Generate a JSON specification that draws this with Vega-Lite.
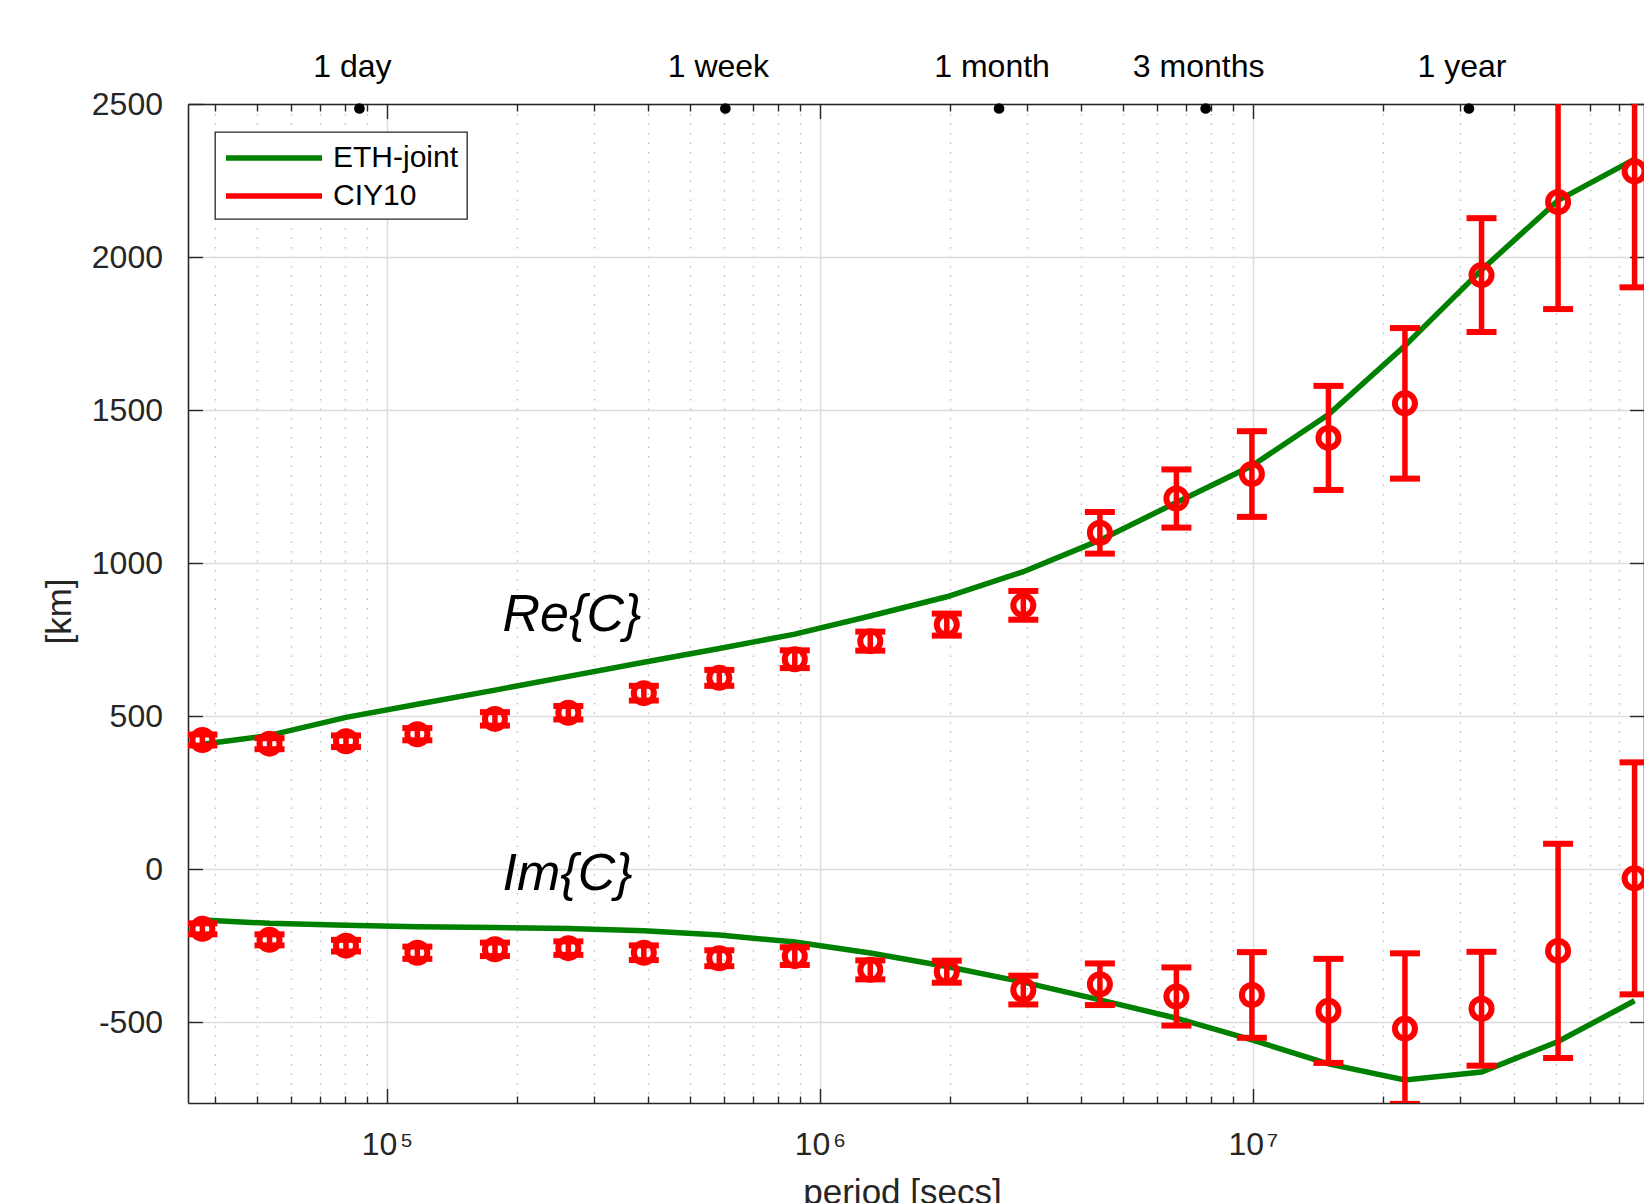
{
  "$schema": "https://vega.github.io/schema/vega-lite/v6.json",
  "autosize": {"type": "none"},
  "width": 1456,
  "height": 999,
  "padding": {"left": 188, "top": 104, "right": 0, "bottom": 100},
  "background": "white",
  "config": {
    "font": "Liberation Sans",
    "view": {"stroke": null},
    "axis": {
      "labelFont": "Liberation Sans",
      "titleFont": "Liberation Sans",
      "labelColor": "#262626",
      "titleColor": "#262626",
      "tickColor": "#262626",
      "domainColor": "#262626",
      "domainWidth": 1.6,
      "tickWidth": 1.4,
      "titleFontWeight": "normal",
      "labelFlush": false,
      "labelOverlap": false
    },
    "legend": {"strokeWidth": 1.3}
  },
  "datasets": {
    "ciy": [
      {"period": 37480, "part": "Re", "value": 422, "err": 18},
      {"period": 53560, "part": "Re", "value": 410, "err": 18},
      {"period": 80440, "part": "Re", "value": 418, "err": 19},
      {"period": 117560, "part": "Re", "value": 441, "err": 20},
      {"period": 177600, "part": "Re", "value": 491, "err": 22},
      {"period": 262400, "part": "Re", "value": 511, "err": 22},
      {"period": 392000, "part": "Re", "value": 575, "err": 24},
      {"period": 585600, "part": "Re", "value": 625, "err": 26},
      {"period": 874800, "part": "Re", "value": 686, "err": 29},
      {"period": 1307000, "part": "Re", "value": 745, "err": 31},
      {"period": 1963000, "part": "Re", "value": 799, "err": 36},
      {"period": 2949000, "part": "Re", "value": 862, "err": 47},
      {"period": 4431000, "part": "Re", "value": 1099, "err": 68},
      {"period": 6656000, "part": "Re", "value": 1211, "err": 95},
      {"period": 9944000, "part": "Re", "value": 1291, "err": 140},
      {"period": 14940000, "part": "Re", "value": 1409, "err": 170},
      {"period": 22440000, "part": "Re", "value": 1522, "err": 246},
      {"period": 33720000, "part": "Re", "value": 1941, "err": 186},
      {"period": 50660000, "part": "Re", "value": 2180, "err": 350},
      {"period": 76090000, "part": "Re", "value": 2280, "err": 379},
      {"period": 37480, "part": "Im", "value": -195, "err": 18},
      {"period": 53560, "part": "Im", "value": -231, "err": 18},
      {"period": 80440, "part": "Im", "value": -250, "err": 19},
      {"period": 117560, "part": "Im", "value": -273, "err": 20},
      {"period": 177600, "part": "Im", "value": -262, "err": 22},
      {"period": 262400, "part": "Im", "value": -258, "err": 22},
      {"period": 392000, "part": "Im", "value": -273, "err": 24},
      {"period": 585600, "part": "Im", "value": -291, "err": 26},
      {"period": 874800, "part": "Im", "value": -284, "err": 29},
      {"period": 1307000, "part": "Im", "value": -329, "err": 31},
      {"period": 1963000, "part": "Im", "value": -335, "err": 36},
      {"period": 2949000, "part": "Im", "value": -395, "err": 47},
      {"period": 4431000, "part": "Im", "value": -376, "err": 68},
      {"period": 6656000, "part": "Im", "value": -416, "err": 95},
      {"period": 9944000, "part": "Im", "value": -411, "err": 140},
      {"period": 14940000, "part": "Im", "value": -463, "err": 170},
      {"period": 22440000, "part": "Im", "value": -521, "err": 246},
      {"period": 33720000, "part": "Im", "value": -456, "err": 186},
      {"period": 50660000, "part": "Im", "value": -267, "err": 350},
      {"period": 76090000, "part": "Im", "value": -30, "err": 379}
    ],
    "eth": [
      {"period": 37480, "part": "Re", "model": "ETH-joint", "value": 408},
      {"period": 53560, "part": "Re", "model": "ETH-joint", "value": 437},
      {"period": 80440, "part": "Re", "model": "ETH-joint", "value": 496},
      {"period": 117560, "part": "Re", "model": "ETH-joint", "value": 539},
      {"period": 177600, "part": "Re", "model": "ETH-joint", "value": 585},
      {"period": 262400, "part": "Re", "model": "ETH-joint", "value": 630},
      {"period": 392000, "part": "Re", "model": "ETH-joint", "value": 676},
      {"period": 585600, "part": "Re", "model": "ETH-joint", "value": 721},
      {"period": 874800, "part": "Re", "model": "ETH-joint", "value": 768},
      {"period": 1307000, "part": "Re", "model": "ETH-joint", "value": 827},
      {"period": 1963000, "part": "Re", "model": "ETH-joint", "value": 890},
      {"period": 2949000, "part": "Re", "model": "ETH-joint", "value": 972},
      {"period": 4431000, "part": "Re", "model": "ETH-joint", "value": 1075},
      {"period": 6656000, "part": "Re", "model": "ETH-joint", "value": 1198},
      {"period": 9944000, "part": "Re", "model": "ETH-joint", "value": 1318},
      {"period": 14940000, "part": "Re", "model": "ETH-joint", "value": 1485},
      {"period": 22440000, "part": "Re", "model": "ETH-joint", "value": 1710},
      {"period": 33720000, "part": "Re", "model": "ETH-joint", "value": 1958},
      {"period": 50660000, "part": "Re", "model": "ETH-joint", "value": 2185},
      {"period": 76090000, "part": "Re", "model": "ETH-joint", "value": 2320},
      {"period": 37480, "part": "Im", "model": "ETH-joint", "value": -166},
      {"period": 53560, "part": "Im", "model": "ETH-joint", "value": -177},
      {"period": 80440, "part": "Im", "model": "ETH-joint", "value": -183},
      {"period": 117560, "part": "Im", "model": "ETH-joint", "value": -188},
      {"period": 177600, "part": "Im", "model": "ETH-joint", "value": -191},
      {"period": 262400, "part": "Im", "model": "ETH-joint", "value": -194},
      {"period": 392000, "part": "Im", "model": "ETH-joint", "value": -201},
      {"period": 585600, "part": "Im", "model": "ETH-joint", "value": -215},
      {"period": 874800, "part": "Im", "model": "ETH-joint", "value": -238},
      {"period": 1307000, "part": "Im", "model": "ETH-joint", "value": -274},
      {"period": 1963000, "part": "Im", "model": "ETH-joint", "value": -318},
      {"period": 2949000, "part": "Im", "model": "ETH-joint", "value": -369},
      {"period": 4431000, "part": "Im", "model": "ETH-joint", "value": -427},
      {"period": 6656000, "part": "Im", "model": "ETH-joint", "value": -487},
      {"period": 9944000, "part": "Im", "model": "ETH-joint", "value": -558},
      {"period": 14940000, "part": "Im", "model": "ETH-joint", "value": -636},
      {"period": 22440000, "part": "Im", "model": "ETH-joint", "value": -689},
      {"period": 33720000, "part": "Im", "model": "ETH-joint", "value": -663},
      {"period": 50660000, "part": "Im", "model": "ETH-joint", "value": -563},
      {"period": 76090000, "part": "Im", "model": "ETH-joint", "value": -430}
    ],
    "spans": [
      {"label": "1 day", "secs": 86400},
      {"label": "1 week", "secs": 604800},
      {"label": "1 month", "secs": 2592000},
      {"label": "3 months", "secs": 7776000},
      {"label": "1 year", "secs": 31536000}
    ],
    "notes": [
      {"text": "Re{C}", "period": 184950, "value": 779},
      {"text": "Im{C}", "period": 184950, "value": -68}
    ]
  },
  "layer": [
    {
      "data": {"name": "eth"},
      "mark": {"type": "line", "strokeWidth": 5.5, "clip": true},
      "encoding": {
        "x": {
          "field": "period", "type": "quantitative",
          "scale": {"type": "log", "domain": [34720, 80000000], "nice": false},
          "axis": {
            "orient": "bottom",
            "values": [40000, 50000, 60000, 70000, 80000, 90000, 100000, 200000, 300000, 400000, 500000, 600000, 700000, 800000, 900000, 1000000, 2000000, 3000000, 4000000, 5000000, 6000000, 7000000, 8000000, 9000000, 10000000, 20000000, 30000000, 40000000, 50000000, 60000000, 70000000],
            "labelExpr": "datum.value == 100000 ? '10\u200a\u2075' : datum.value == 1000000 ? '10\u200a\u2076' : datum.value == 10000000 ? '10\u200a\u2077' : ''",
            "grid": true,
            "gridColor": {"condition": {"test": "datum.value == 100000 || datum.value == 1000000 || datum.value == 10000000", "value": "#dcdcdc"}, "value": "#bdbdbd"},
            "gridDash": {"condition": {"test": "datum.value == 100000 || datum.value == 1000000 || datum.value == 10000000", "value": []}, "value": [1.5, 8]},
            "gridWidth": 1.4,
            "tickSize": {"condition": {"test": "datum.value == 100000 || datum.value == 1000000 || datum.value == 10000000", "value": -14.5}, "value": -7},
            "labelFontSize": 32,
            "labelPadding": 66,
            "labelBaseline": "alphabetic",
            "title": "period [secs]",
            "titleFontSize": 35,
            "titleX": 714,
            "titleY": 100,
            "titleBaseline": "alphabetic"
          }
        },
        "y": {
          "field": "value", "type": "quantitative",
          "scale": {"domain": [-764, 2500], "nice": false, "zero": false},
          "axis": {
            "orient": "left",
            "values": [-500, 0, 500, 1000, 1500, 2000, 2500],
            "labelExpr": "'' + datum.value",
            "grid": true,
            "gridColor": "#dcdcdc",
            "gridWidth": 1.4,
            "tickSize": -14.5,
            "labelFontSize": 32,
            "labelPadding": 40,
            "title": "[km]",
            "titleFontSize": 35,
            "titleX": -129,
            "titleY": 507,
            "titleBaseline": "middle"
          }
        },
        "detail": {"field": "part"},
        "color": {
          "field": "model", "type": "nominal",
          "scale": {"domain": ["ETH-joint", "CIY10"], "range": ["#008000", "#ff0000"]},
          "legend": {
            "orient": "none",
            "legendX": 27,
            "legendY": 28,
            "title": null,
            "fillColor": "white",
            "strokeColor": "#262626",
            "padding": 8,
            "symbolType": "M-3.2,0H3.2",
            "symbolSize": 900,
            "symbolStrokeWidth": 5.5,
            "symbolOffset": 33,
            "labelOffset": 41,
            "labelFontSize": 30,
            "labelColor": "#000000",
            "labelFont": "Liberation Sans",
            "rowPadding": 5
          }
        }
      }
    },
    {
      "data": {"name": "spans"},
      "mark": {"type": "point", "filled": true, "color": "#000000", "opacity": 1, "size": 115, "yOffset": 4.5},
      "encoding": {
        "x": {
          "field": "secs", "type": "quantitative",
          "scale": {"type": "log", "domain": [34720, 80000000], "nice": false},
          "axis": {
            "orient": "top",
            "values": [40000, 50000, 60000, 70000, 80000, 90000, 100000, 200000, 300000, 400000, 500000, 600000, 700000, 800000, 900000, 1000000, 2000000, 3000000, 4000000, 5000000, 6000000, 7000000, 8000000, 9000000, 10000000, 20000000, 30000000, 40000000, 50000000, 60000000, 70000000],
            "labels": false,
            "grid": false,
            "tickSize": {"condition": {"test": "datum.value == 100000 || datum.value == 1000000 || datum.value == 10000000", "value": -14.5}, "value": -7},
            "title": null
          }
        },
        "y": {
          "datum": 2500, "type": "quantitative",
          "scale": {"domain": [-764, 2500], "nice": false, "zero": false},
          "axis": {
            "orient": "right",
            "values": [-500, 0, 500, 1000, 1500, 2000, 2500],
            "labels": false,
            "grid": false,
            "tickSize": -14.5,
            "title": null
          }
        }
      }
    },
    {
      "data": {"name": "ciy"},
      "mark": {
        "type": "errorbar",
        "color": "#ff0000",
        "opacity": 1,
        "clip": true,
        "rule": {"strokeWidth": 5.5, "opacity": 1, "color": "#ff0000"},
        "ticks": {"thickness": 6, "size": 30, "opacity": 1, "color": "#ff0000"}
      },
      "encoding": {
        "x": {"field": "period", "type": "quantitative", "scale": {"type": "log", "domain": [34720, 80000000], "nice": false}, "axis": null},
        "y": {"field": "value", "type": "quantitative", "scale": {"domain": [-764, 2500], "nice": false, "zero": false}, "axis": null},
        "yError": {"field": "err"}
      }
    },
    {
      "data": {"name": "ciy"},
      "mark": {"type": "point", "shape": "circle", "filled": false, "stroke": "#ff0000", "strokeWidth": 6, "size": 400, "opacity": 1, "clip": true},
      "encoding": {
        "x": {"field": "period", "type": "quantitative", "scale": {"type": "log", "domain": [34720, 80000000], "nice": false}, "axis": null},
        "y": {"field": "value", "type": "quantitative", "scale": {"domain": [-764, 2500], "nice": false, "zero": false}, "axis": null}
      }
    },
    {
      "data": {"name": "spans"},
      "mark": {"type": "text", "fontSize": 32, "color": "#000000", "baseline": "alphabetic", "align": "center", "dy": -27, "dx": -7, "font": "Liberation Sans"},
      "encoding": {
        "x": {"field": "secs", "type": "quantitative", "scale": {"type": "log", "domain": [34720, 80000000], "nice": false}, "axis": null},
        "y": {"datum": 2500, "type": "quantitative", "scale": {"domain": [-764, 2500], "nice": false, "zero": false}, "axis": null},
        "text": {"field": "label"}
      }
    },
    {
      "data": {"name": "notes"},
      "mark": {"type": "text", "fontSize": 52, "fontStyle": "italic", "color": "#000000", "baseline": "alphabetic", "align": "left", "font": "Liberation Sans"},
      "encoding": {
        "x": {"field": "period", "type": "quantitative", "scale": {"type": "log", "domain": [34720, 80000000], "nice": false}, "axis": null},
        "y": {"field": "value", "type": "quantitative", "scale": {"domain": [-764, 2500], "nice": false, "zero": false}, "axis": null},
        "text": {"field": "text"}
      }
    }
  ],
  "resolve": {"axis": {"x": "independent", "y": "independent"}}
}
